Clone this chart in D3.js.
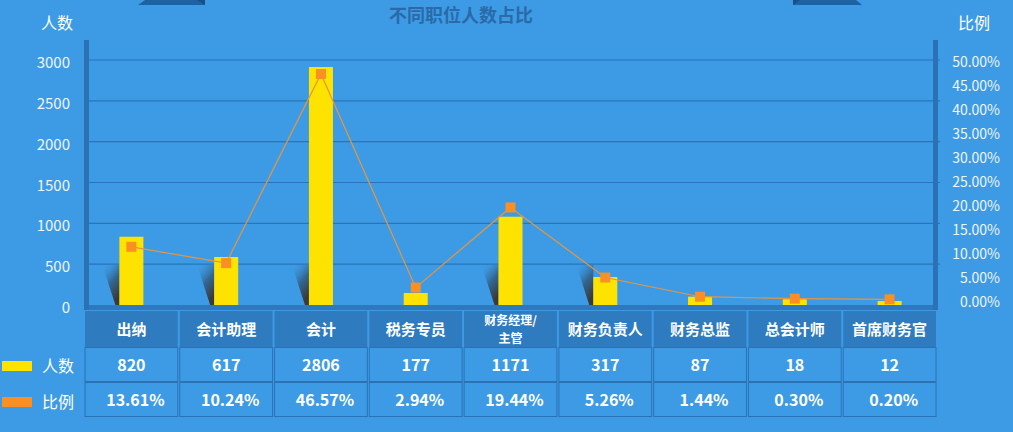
<!DOCTYPE html>
<html lang="zh">
<head>
<meta charset="UTF-8">
<title>不同职位人数占比</title>
<script src="https://d3js.org/d3.v7.min.js"></script>
<style>
  html, body { margin: 0; padding: 0; background: #3d9be6; }
  svg { display: block; font-family: "Noto Sans CJK SC", "Noto Sans", sans-serif; }
</style>
</head>
<body>
<div id="chart"></div>
<script>
// categories and table text
var categories = ["出纳", "会计助理", "会计", "税务专员", "财务经理/主管", "财务负责人", "财务总监", "总会计师", "首席财务官"];
var tableCounts = [820, 617, 2806, 177, 1171, 317, 87, 18, 12];
var tablePercents = ["13.61%", "10.24%", "46.57%", "2.94%", "19.44%", "5.26%", "1.44%", "0.30%", "0.20%"];
// bar heights and line points as drawn in the picture
var barCounts = [836, 588, 2914, 147, 1081, 343, 102, 70, 49];
var ratioPoints = [11.5, 8.1, 47.5, 3.0, 19.7, 5.1, 1.1, 0.7, 0.55];
var leftTicks = [0, 500, 1000, 1500, 2000, 2500, 3000];
var rightTicks = [0, 5, 10, 15, 20, 25, 30, 35, 40, 45, 50];

var width = 1013, height = 432;
var left = 84, right = 937, base = 305;

var svg = d3.select("#chart").append("svg")
    .attr("width", width)
    .attr("height", height);

svg.append("rect").attr("width", width).attr("height", height).attr("fill", "#3d9be6");

var x = d3.scaleBand().domain(categories).range([left, right]);
var y = d3.scaleLinear().domain([0, 3000]).range([base, 60]);
var yr = d3.scaleLinear().domain([0, 50]).range([302, 62]);

// shadow gradient
var defs = svg.append("defs");
var grad = defs.append("linearGradient").attr("id", "shadow")
    .attr("x1", 0).attr("y1", 0).attr("x2", 0.5).attr("y2", 1);
grad.append("stop").attr("offset", "0%").attr("stop-color", "#3d9be6").attr("stop-opacity", 0);
grad.append("stop").attr("offset", "55%").attr("stop-color", "#2f4f6e").attr("stop-opacity", 0.7);
grad.append("stop").attr("offset", "100%").attr("stop-color", "#3a3a3a").attr("stop-opacity", 1);

// top decorations
svg.append("polygon").attr("points", "145,0 205,0 205,5 138,5").attr("fill", "#1d62a3");
svg.append("polygon").attr("points", "197,0 205,0 205,5").attr("fill", "#184f86");
svg.append("polygon").attr("points", "793,0 856,0 862,5 793,5").attr("fill", "#1d62a3");
svg.append("polygon").attr("points", "793,0 800,0 793,5").attr("fill", "#184f86");

// title and axis names
svg.append("text").attr("x", 461).attr("y", 22).attr("text-anchor", "middle")
    .attr("font-size", 18).attr("font-weight", "bold").attr("fill", "#2a6aa8")
    .text("不同职位人数占比");
svg.append("text").attr("x", 57).attr("y", 29).attr("text-anchor", "middle")
    .attr("font-size", 16).attr("fill", "#fff").text("人数");
svg.append("text").attr("x", 974).attr("y", 29).attr("text-anchor", "middle")
    .attr("font-size", 16).attr("fill", "#fff").text("比例");

// gridlines
svg.selectAll(".grid").data(leftTicks.slice(1)).enter().append("line")
    .attr("x1", left).attr("x2", 940)
    .attr("y1", d => y(d)).attr("y2", d => y(d))
    .attr("stroke", "#2a74b8").attr("stroke-width", 1.2);

// left axis labels
svg.selectAll(".ly").data(leftTicks).enter().append("text")
    .attr("x", 70).attr("y", d => y(d) + 8)
    .attr("text-anchor", "end").attr("font-size", 15).attr("fill", "#eef5fc")
    .text(d => d);

// right axis labels
svg.selectAll(".ry").data(rightTicks).enter().append("text")
    .attr("x", 1000).attr("y", d => yr(d) + 5)
    .attr("text-anchor", "end").attr("font-size", 14).attr("fill", "#eef5fc")
    .text(d => d3.format(".2f")(d) + "%");

// shadows behind bars
var bw = 24;
svg.selectAll(".shadow").data(categories.filter((c, i) => base - y(barCounts[i]) > 20)).enter()
    .append("polygon")
    .attr("points", function(c) {
        var l = x(c) + x.bandwidth() / 2 - bw / 2;
        return [[l - 17, base - 40], [l, base - 40], [l, base], [l - 4, base]].join(" ");
    })
    .attr("fill", "url(#shadow)");

// bars
svg.selectAll(".bar").data(categories).enter().append("rect")
    .attr("x", c => x(c) + x.bandwidth() / 2 - bw / 2)
    .attr("width", bw)
    .attr("y", (c, i) => y(barCounts[i]))
    .attr("height", (c, i) => base - y(barCounts[i]))
    .attr("fill", "#ffe300");

// axis bars
svg.append("rect").attr("x", left).attr("y", base).attr("width", right - left).attr("height", 5).attr("fill", "#2e79bd");
svg.append("rect").attr("x", left).attr("y", 40).attr("width", 5).attr("height", 270).attr("fill", "#2a72b3");
svg.append("rect").attr("x", 933).attr("y", 40).attr("width", 5).attr("height", 270).attr("fill", "#2a72b3");

// ratio line
var line = d3.line()
    .x((d, i) => x(categories[i]) + x.bandwidth() / 2)
    .y(d => yr(d));
svg.append("path").datum(ratioPoints).attr("d", line)
    .attr("fill", "none").attr("stroke", "#e8953a").attr("stroke-width", 1.2);
svg.selectAll(".mk").data(ratioPoints).enter().append("rect")
    .attr("x", (d, i) => x(categories[i]) + x.bandwidth() / 2 - 5)
    .attr("y", d => yr(d) - 5)
    .attr("width", 10).attr("height", 10)
    .attr("fill", "#f98f25");

// table
var rowTop = [311, 347, 382], rowH = [36, 35, 35];
var header = svg.selectAll(".hd").data(categories).enter().append("g");
header.append("rect")
    .attr("x", c => x(c) + 1).attr("y", rowTop[0])
    .attr("width", x.bandwidth() - 2).attr("height", rowH[0])
    .attr("fill", "#2e7bc0");
header.each(function(c) {
    var g = d3.select(this);
    var cx = x(c) + x.bandwidth() / 2;
    if (c.indexOf("/") >= 0) {
        var parts = c.split("/");
        g.append("text").attr("x", cx).attr("y", rowTop[0] + 14).attr("text-anchor", "middle")
            .attr("font-size", 12).attr("font-weight", "bold").attr("fill", "#fff").text(parts[0] + "/");
        g.append("text").attr("x", cx).attr("y", rowTop[0] + 32).attr("text-anchor", "middle")
            .attr("font-size", 12).attr("font-weight", "bold").attr("fill", "#fff").text(parts[1]);
    } else {
        g.append("text").attr("x", cx).attr("y", rowTop[0] + 24).attr("text-anchor", "middle")
            .attr("font-size", 15).attr("font-weight", "bold").attr("fill", "#fff").text(c);
    }
});

[tableCounts, tablePercents].forEach(function(vals, r) {
    var top = rowTop[r + 1], h = rowH[r + 1];
    svg.selectAll(".row" + r).data(vals).enter().append("rect")
        .attr("x", (d, i) => x(categories[i]) + 1).attr("y", top + 0.5)
        .attr("width", x.bandwidth() - 2).attr("height", h - 1)
        .attr("fill", "#3d9be6").attr("stroke", "#2b72b5").attr("stroke-width", 1);
    svg.selectAll(".rowt" + r).data(vals).enter().append("text")
        .attr("x", (d, i) => x(categories[i]) + x.bandwidth() / 2 + (r === 1 ? 4 : 0))
        .attr("y", top + h / 2 + 6)
        .attr("text-anchor", "middle").attr("font-size", 16).attr("font-weight", "bold")
        .attr("fill", "#fff").text(d => d);
});

// legend
var legend = [["人数", "#ffe300", 366], ["比例", "#f98f25", 402]];
legend.forEach(function(l) {
    svg.append("rect").attr("x", 2).attr("y", l[2] - 5).attr("width", 30).attr("height", 10).attr("fill", l[1]);
    svg.append("text").attr("x", 42).attr("y", l[2] + 6).attr("font-size", 16).attr("fill", "#fff").text(l[0]);
});
</script>
</body>
</html>
